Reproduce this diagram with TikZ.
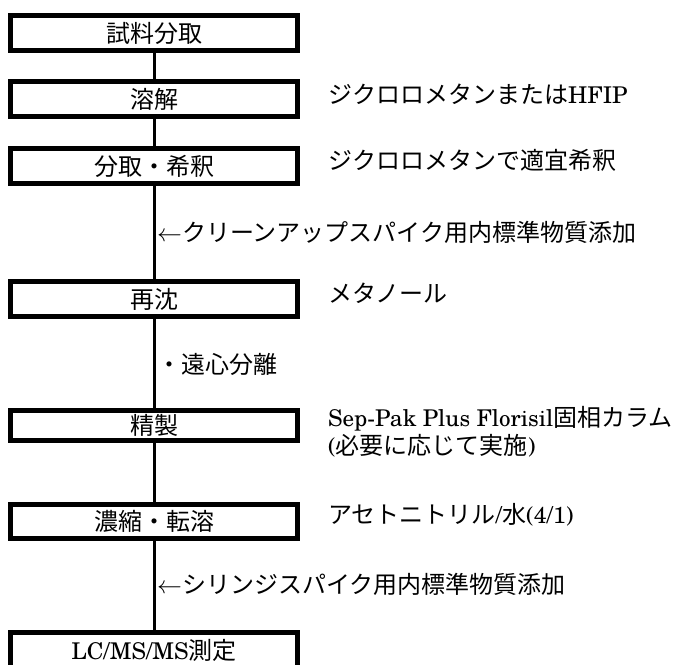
\documentclass[tikz,border=0pt]{standalone}
\usepackage{fontspec}
\setmainfont{texgyreschola-regular.otf}[Scale=0.96]
\newfontfamily\cjk{Noto Sans CJK JP}
\newcommand{\J}[1]{{\cjk #1}}
\begin{document}
\begin{tikzpicture}[x=1pt,y=-1pt,
  stepbox/.style={draw, line width=5pt, minimum width=287pt, inner sep=0pt,
    font=\fontsize{24}{27}\selectfont},
  lab/.style={anchor=west, inner sep=0pt, font=\fontsize{24}{27}\selectfont},
  conn/.style={line width=3pt}]
\path[use as bounding box] (0,0) rectangle (687,664);
\node[stepbox, minimum height=35pt] (b1) at (154,33) {\J{試料分取}};
\node[stepbox, minimum height=35pt] (b2) at (154,99) {\J{溶解}};
\node[stepbox, minimum height=35pt] (b3) at (154,166) {\J{分取・希釈}};
\node[stepbox, minimum height=35pt] (b4) at (154,299) {\J{再沈}};
\node[stepbox, minimum height=30pt] (b5) at (154,425.5) {\J{精製}};
\node[stepbox, minimum height=34pt] (b6) at (154,521.5) {\J{濃縮・転溶}};
\node[stepbox, minimum height=35pt] (b7) at (154,650) {LC/MS/MS\J{測定}};
\draw[conn] (b1.south) -- (b2.north);
\draw[conn] (b2.south) -- (b3.north);
\draw[conn] (b3.south) -- (b4.north);
\draw[conn] (b4.south) -- (b5.north);
\draw[conn] (b5.south) -- (b6.north);
\draw[conn] (b6.south) -- (b7.north);
\node[lab] (l2) at (328,94) {\J{ジクロロメタンまたは}HFIP};
\node[lab] (l3) at (328,160) {\J{ジクロロメタンで適宜希釈}};
\node[lab] (c1) at (157,232) {$\leftarrow$\J{クリーンアップスパイク用内標準物質添加}};
\node[lab] (l4) at (328,293) {\J{メタノール}};
\node[lab] (c2) at (157,364) {\J{・遠心分離}};
\node[lab] (l5) at (328,419) {Sep-Pak Plus Florisil\J{固相カラム}};
\node[lab] (l5b) at (328,446) {(\J{必要に応じて実施})};
\node[lab] (l6) at (328,515) {\J{アセトニトリル}/\J{水}(4/1)};
\node[lab] (c3) at (157,584) {$\leftarrow$\J{シリンジスパイク用内標準物質添加}};
\end{tikzpicture}
\end{document}
